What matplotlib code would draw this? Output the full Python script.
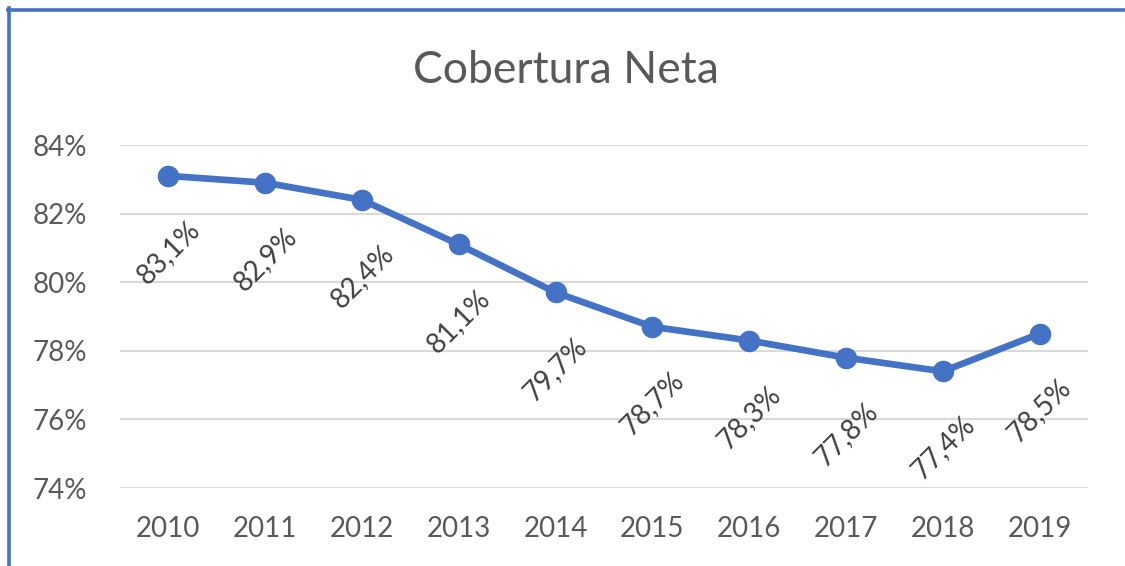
import matplotlib.pyplot as plt
from matplotlib.lines import Line2D

# Cobertura neta por año (%)
years = ['2010', '2011', '2012', '2013', '2014', '2015', '2016', '2017', '2018', '2019']
values = [83.1, 82.9, 82.4, 81.1, 79.7, 78.7, 78.3, 77.8, 77.4, 78.5]
y_ticks = [74, 76, 78, 80, 82, 84]

plt.rcParams['font.family'] = ['Lato', 'DejaVu Sans']

blue = '#4472C4'
grey = '#595959'

fig = plt.figure(figsize=(11.25, 5.66), dpi=100)
ax = fig.add_axes([0.1067, 0.1378, 0.8604, 0.606])

x = list(range(len(years)))
ax.plot(x, values, color=blue, linewidth=4.8, marker='o', markersize=14.5,
        solid_capstyle='round', zorder=3)

# data labels, rotated, below each point
for xi, v in zip(x, values):
    ax.annotate(f'{v:.1f}%'.replace('.', ','), (xi, v), xytext=(0, -55),
                textcoords='offset points', ha='center', va='center',
                rotation=45, fontsize=20, color='#404040', zorder=4)

ax.set_xlim(-0.5, len(years) - 0.5)
ax.set_ylim(74, 84)
ax.set_yticks(y_ticks)
ax.set_yticklabels([f'{t}%' for t in y_ticks])
ax.set_xticks(x)
ax.set_xticklabels(years)
ax.tick_params(axis='both', length=0, labelsize=20, labelcolor=grey)
ax.tick_params(axis='y', pad=24)
ax.tick_params(axis='x', pad=20)
ax.grid(axis='y', color='#D9D9D9', linewidth=1.5)
ax.set_axisbelow(True)
for s in ax.spines.values():
    s.set_visible(False)

fig.text(0.503, 0.876, 'Cobertura Neta', ha='center', va='center',
         fontsize=32, color=grey)

# selection border (top and left edges)
fig.add_artist(Line2D([8 / 1125, 1], [1 - 9.5 / 566, 1 - 9.5 / 566],
                      transform=fig.transFigure, color=blue, linewidth=2.6))
fig.add_artist(Line2D([9 / 1125, 9 / 1125], [0, 1 - 8 / 566],
                      transform=fig.transFigure, color=blue, linewidth=2.6))

fig.savefig('out.png', dpi=100)
